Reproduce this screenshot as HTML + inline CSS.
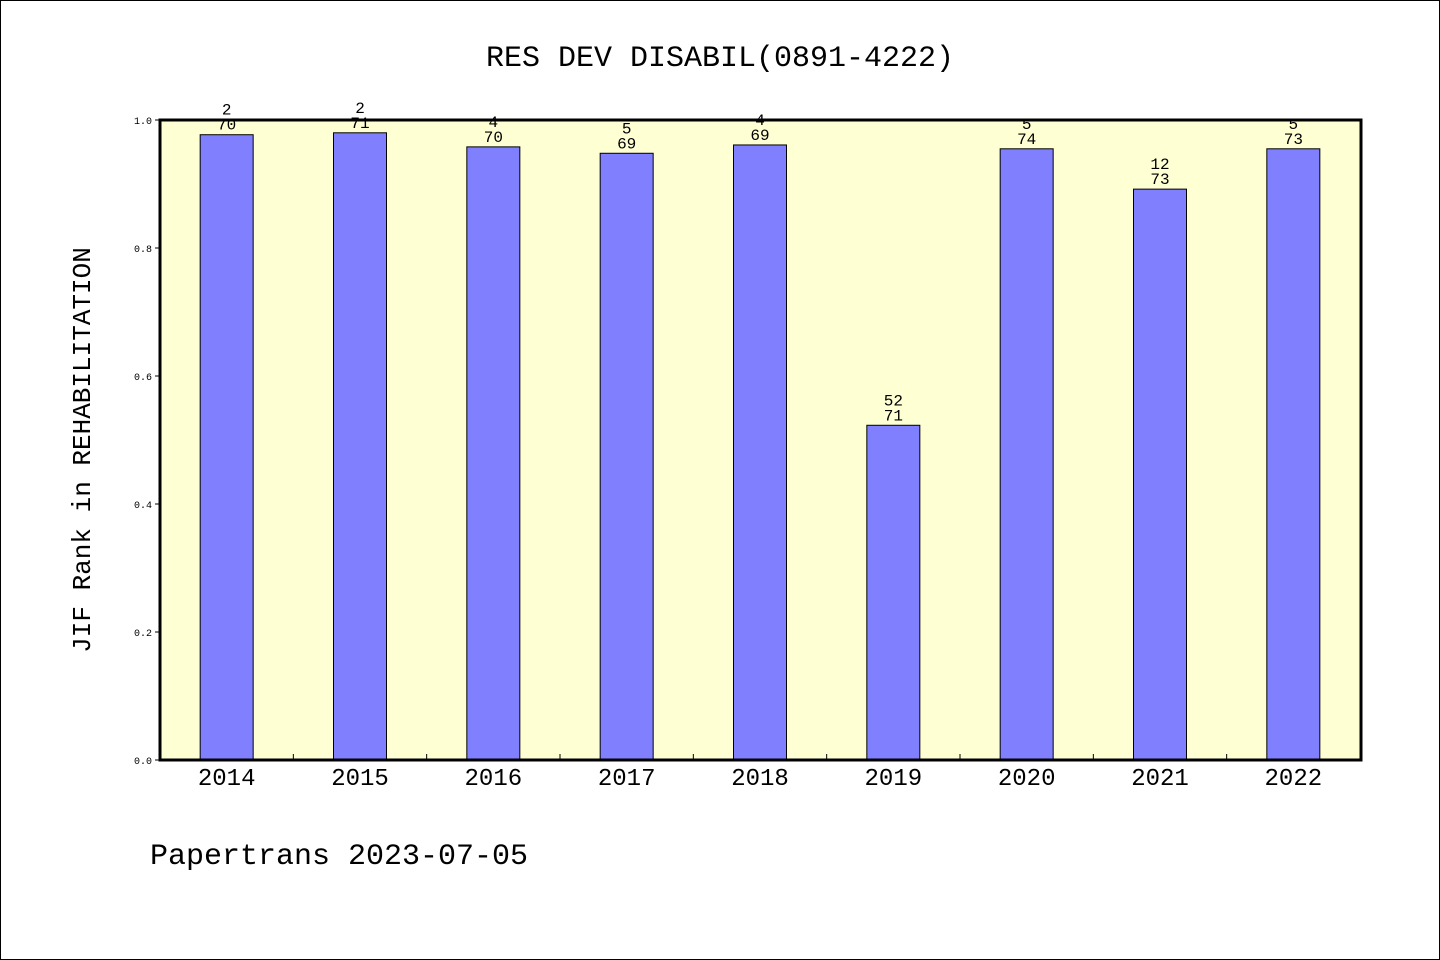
<!DOCTYPE html>
<html><head><meta charset="utf-8"><style>
html,body{margin:0;padding:0;background:#fff}
svg{display:block;font-family:"Liberation Mono","DejaVu Sans Mono",monospace}
</style></head><body>
<svg id="chart" width="1440" height="960" viewBox="0 0 1440 960" xmlns="http://www.w3.org/2000/svg">
<rect x="0.5" y="0.5" width="1439" height="959" fill="#fff" stroke="#000"/>
<text x="720" y="66" text-anchor="middle" font-size="30">RES DEV DISABIL(0891-4222)</text>
<rect x="160" y="120" width="1201" height="640" fill="#ffffd4"/>
<g id="bars"></g>
<g id="axes"></g>
<rect x="160" y="120" width="1201" height="640" fill="none" stroke="#000" stroke-width="3"/>
<text transform="translate(90,450) rotate(-90)" text-anchor="middle" font-size="26">JIF Rank in REHABILITATION</text>
<text x="150" y="864" font-size="30">Papertrans 2023-07-05</text>
</svg>
<script>
const years=["2014","2015","2016","2017","2018","2019","2020","2021","2022"];
const values=[0.977,0.980,0.958,0.948,0.961,0.523,0.955,0.892,0.955];
const ranks=["2","2","4","5","4","52","5","12","5"];
const totals=["70","71","70","69","69","71","74","73","73"];
const yTicks=["0.0","0.2","0.4","0.6","0.8","1.0"];
const NS="http://www.w3.org/2000/svg";
const x0=160,x1=1360,yb=760,yt=120;
const band=(x1-x0)/years.length;
const xc=i=>x0+band*(i+0.5);
const ys=v=>yb-(yb-yt)*v;
function mk(tag,attrs,parent,txt){const e=document.createElementNS(NS,tag);for(const k in attrs)e.setAttribute(k,attrs[k]);if(txt!==undefined)e.textContent=txt;parent.appendChild(e);return e;}
const gb=document.getElementById('bars'),ga=document.getElementById('axes');
years.forEach((y,i)=>{
  const top=ys(values[i]);
  const r=mk('rect',{x:xc(i)-26.5,y:top,width:53,height:yb-top,fill:'#8080ff',stroke:'#000','stroke-width':1},gb);
  
  
  const t1=mk('text',{x:xc(i),y:top-20,'text-anchor':'middle','font-size':16},gb,ranks[i]);
  
  
  const t2=mk('text',{x:xc(i),y:top-5,'text-anchor':'middle','font-size':16},gb,totals[i]);
  
  
  const xl=mk('text',{x:xc(i),y:785,'text-anchor':'middle','font-size':24},ga,y);
  
  
  if(i>0){const tk=mk('line',{x1:x0+band*i,x2:x0+band*i,y1:yb,y2:yb-6,stroke:'#000'},ga);
  
  }
});
yTicks.forEach(t=>{
  const v=parseFloat(t),y=ys(v);
  const l=mk('text',{x:152,y:y+4,'text-anchor':'end','font-size':10},ga,t);
  
  
  const tk=mk('line',{x1:155,x2:160,y1:y,y2:y,stroke:'#000'},ga);
  
  
});
</script>
</body></html>
